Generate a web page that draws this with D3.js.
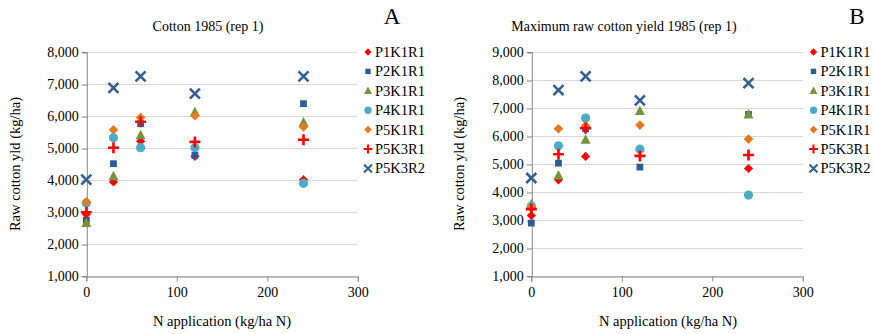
<!DOCTYPE html>
<html><head><meta charset="utf-8">
<script src="https://cdn.jsdelivr.net/npm/d3@7"></script>
<style>
body{margin:0;background:#fff;}
svg text{font-family:"Times New Roman","Liberation Serif","DejaVu Serif",serif !important;fill:#000;}
</style></head>
<body><svg id="c" width="874" height="334"></svg>
<script>
const nRates = [0, 30, 60, 120, 240];
const seriesNames = ["P1K1R1","P2K1R1","P3K1R1","P4K1R1","P5K1R1","P5K3R1","P5K3R2"];
// Panel A: Cotton 1985 (rep 1)
const aP1K1R1 = [2930, 3940, 5210, 4740, 4010];
const aP2K1R1 = [2740, 4510, 5760, 4770, 6385];
const aP3K1R1 = [2660, 4115, 5400, 6115, 5800];
const aP4K1R1 = [3280, 5320, 5010, 5010, 3895];
const aP5K1R1 = [3320, 5570, 5950, 6010, 5655];
const aP5K3R1 = [2990, 5010, 5820, 5190, 5260];
const aP5K3R2 = [4010, 6880, 7240, 6700, 7240];
// Panel B: Maximum raw cotton yield 1985 (rep 1)
const bP1K1R1 = [3160, 4435, 5270, 5500, 4840];
const bP2K1R1 = [2890, 5030, 6260, 4890, 6770];
const bP3K1R1 = [3560, 4590, 5865, 6890, 6770];
const bP4K1R1 = [3500, 5650, 6640, 5530, 3890];
const bP5K1R1 = [3450, 6260, 6370, 6390, 5890];
const bP5K3R1 = [3390, 5350, 6280, 5290, 5320];
const bP5K3R2 = [4500, 7640, 8130, 7270, 7890];
const xTicks = [0, 100, 200, 300];
const yTicksA = [1000,2000,3000,4000,5000,6000,7000,8000];
const yTicksB = [1000,2000,3000,4000,5000,6000,7000,8000,9000];

const colors = ["#FF0000","#2E5C96","#77933C","#4BACC6","#E8781E","#FF0000","#355E94"];
const FONT = "Times New Roman, Liberation Serif, DejaVu Serif, serif";
const svg = d3.select("#c");

function marker(g, i){
  if(i===0){ g.append("path").attr("d","M0,-4.6L4.6,0L0,4.6L-4.6,0Z").attr("fill",colors[i]); }
  else if(i===1){ g.append("path").attr("d", d3.symbol(d3.symbolSquare, 46)()).attr("fill",colors[i]); }
  else if(i===2){ g.append("path").attr("d","M0,-5.5L5,4L-5,4Z").attr("fill",colors[i]); }
  else if(i===3){ g.append("circle").attr("r",4.6).attr("fill",colors[i]); }
  else if(i===4){ g.append("path").attr("d","M0,-4.8L4.8,0L0,4.8L-4.8,0Z").attr("fill",colors[i]); }
  else if(i===5){ g.append("path").attr("d","M-5.5,0H5.5M0,-5.5V5.5").attr("stroke",colors[i]).attr("stroke-width",2.6).attr("fill","none"); }
  else { g.append("path").attr("d","M-5,-5L5,5M-5,5L5,-5").attr("stroke",colors[i]).attr("stroke-width",2.6).attr("fill","none"); }
}

function panel(opt){
  const x = d3.scaleLinear().domain([0,300]).range([opt.x0, opt.x0+271.5]);
  const y = d3.scaleLinear().domain([1000, opt.ymax]).range([276, 52]);
  const g = svg.append("g").attr("font-family",FONT);
  g.selectAll(".grid").data(opt.yTicks).enter().append("line")
    .attr("x1",x(0)).attr("x2",x(300)).attr("y1",d=>y(d)+0.5).attr("y2",d=>y(d)+0.5)
    .attr("stroke","#D9D9D9").attr("stroke-width",1);
  const ya = g.append("g").attr("transform",`translate(${x(0)+0.5},0)`)
    .call(d3.axisLeft(y).tickValues(opt.yTicks).tickFormat(d3.format(",")).tickSize(5).tickPadding(3));
  ya.attr("font-family",FONT);
  ya.select(".domain").attr("stroke","#868686");
  ya.selectAll(".tick line").attr("stroke","#868686").attr("transform","translate(0,0.5)");
  ya.selectAll("text").attr("font-size","14px");
  const xa = g.append("g").attr("transform",`translate(0,${y(1000)+0.5})`)
    .call(d3.axisBottom(x).tickValues(xTicks).tickSize(5).tickPadding(6));
  xa.attr("font-family",FONT);
  xa.select(".domain").attr("stroke","#868686");
  xa.selectAll(".tick line").attr("stroke","#868686");
  xa.selectAll("text").attr("font-size","14px");
  opt.series.forEach((vals,i)=>{
    vals.forEach((v,j)=>{
      const m = g.append("g").attr("transform",`translate(${x(nRates[j])},${y(v)})`);
      marker(m,i);
    });
  });
  g.append("text").attr("x",opt.titleX).attr("y",31).attr("text-anchor","middle").attr("font-size","14px").text(opt.title);
  g.append("text").attr("x",opt.letterX).attr("y",24).attr("text-anchor","middle").attr("font-size","23px").text(opt.letter);
  g.append("text").attr("transform",`translate(${opt.yTitleX},164) rotate(-90)`).attr("text-anchor","middle").attr("font-size","14.5px").text("Raw cotton yld (kg/ha)");
  g.append("text").attr("x",opt.xTitleX).attr("y",326).attr("text-anchor","middle").attr("font-size","14.5px").text("N application (kg/ha N)");
  seriesNames.forEach((n,i)=>{
    const ly = 52 + i*19.4;
    const m = g.append("g").attr("transform",`translate(${opt.legX},${ly}) scale(0.8)`);
    marker(m,i);
    g.append("text").attr("x",opt.legX+7).attr("y",ly+5).attr("font-size","14.5px").text(n);
  });
}

panel({x0:86.3, ymax:8000, yTicks:yTicksA, series:[aP1K1R1,aP2K1R1,aP3K1R1,aP4K1R1,aP5K1R1,aP5K3R1,aP5K3R2],
  title:"Cotton 1985 (rep 1)", titleX:208, letter:"A", letterX:392, yTitleX:20, xTitleX:222, legX:368});
panel({x0:531.3, ymax:9000, yTicks:yTicksB, series:[bP1K1R1,bP2K1R1,bP3K1R1,bP4K1R1,bP5K1R1,bP5K3R1,bP5K3R2],
  title:"Maximum raw cotton yield 1985 (rep 1)", titleX:624, letter:"B", letterX:857, yTitleX:464, xTitleX:668, legX:813.5});
</script></body></html>
